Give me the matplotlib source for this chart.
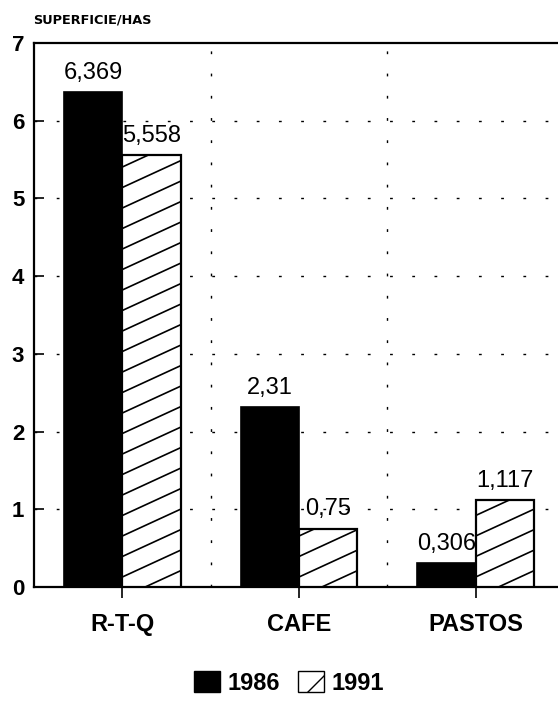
import matplotlib.pyplot as plt
import numpy as np
from matplotlib.patches import Patch

plt.rcParams["font.family"] = ["Liberation Sans", "DejaVu Sans"]

categories = ["R-T-Q", "CAFE", "PASTOS"]
years = ["1986", "1991"]
vals_1986 = [6.369, 2.31, 0.306]
vals_1991 = [5.558, 0.75, 1.117]
text_1986 = ["6,369", "2,31", "0,306"]
text_1991 = ["5,558", "0,75", "1,117"]

fig = plt.figure(figsize=(5.58, 7.02), dpi=100)
ax = fig.add_axes([34 / 558, 1 - 587 / 702, (564 - 34) / 558, 544 / 702])

x = np.arange(len(categories))
w = 0.33
ax.set_xlim(-0.5, 2.5)
ax.set_ylim(0, 7)

bars_a = ax.bar(x - w / 2, vals_1986, w, color="black", edgecolor="black", lw=1.2, zorder=3)
bars_b = ax.bar(x + w / 2, vals_1991, w, color="white", edgecolor="black", lw=1.6, zorder=3)


def slant_hatch(patch, slope=0.46, gap=20.5, phase=10):
    # shallow diagonal hatching, drawn in pixel space and clipped to the bar
    (x0, y0), (x1, y1) = ax.transData.transform(
        [[patch.get_x(), patch.get_y()],
         [patch.get_x() + patch.get_width(), patch.get_y() + patch.get_height()]])
    inv = ax.transData.inverted()
    c = y0 + phase - gap * np.ceil(slope * (x1 - x0) / gap + 1)
    while c < y1:
        pts = inv.transform([[x0, c], [x1, c + slope * (x1 - x0)]])
        ln, = ax.plot(pts[:, 0], pts[:, 1], color="black", lw=1.2, zorder=3.2)
        ln.set_clip_path(patch)
        c += gap


for p in bars_b:
    slant_hatch(p)

for xi, v, t in zip(x - w / 2, vals_1986, text_1986):
    ax.annotate(t, (xi, v), xytext=(0, 6), textcoords="offset points",
                ha="center", va="bottom", fontsize=17)
for xi, v, t in zip(x + w / 2, vals_1991, text_1991):
    ax.annotate(t, (xi, v), xytext=(0, 6), textcoords="offset points",
                ha="center", va="bottom", fontsize=17)

# dotted grid
for yv in range(1, 7):
    ax.axhline(yv, color="black", lw=1.0, ls=(0, (2, 14)), zorder=1)
for xv in x[:-1] + 0.5:
    ax.axvline(xv, color="black", lw=1.0, ls=(0, (2, 14)), zorder=1)

ax.set_xticks(x, categories, fontweight="bold")
ax.set_yticks(range(0, 8), [str(i) for i in range(0, 8)], fontweight="bold")
ax.tick_params(axis="y", direction="in", length=7, width=1.2, labelsize=16, pad=7)
ax.tick_params(axis="x", direction="out", length=8, width=1.2, labelsize=17, pad=11)
for s in ax.spines.values():
    s.set_linewidth(1.6)

fig.text(33 / 558, 1 - 20 / 702, "SUPERFICIE/HAS", fontsize=9.3, fontweight="bold",
         family="DejaVu Sans", va="center", ha="left")

handles = [Patch(facecolor="black", edgecolor="black"),
           Patch(facecolor="white", edgecolor="black", hatch="/")]
fig.legend(handles, years, loc="center", bbox_to_anchor=(0.518, 0.027), ncol=2,
           frameon=False, prop={"weight": "bold", "size": 17},
           handlelength=1.1, handleheight=1.0, handletextpad=0.3, columnspacing=0.8)

fig.savefig("out.png", dpi=100)
